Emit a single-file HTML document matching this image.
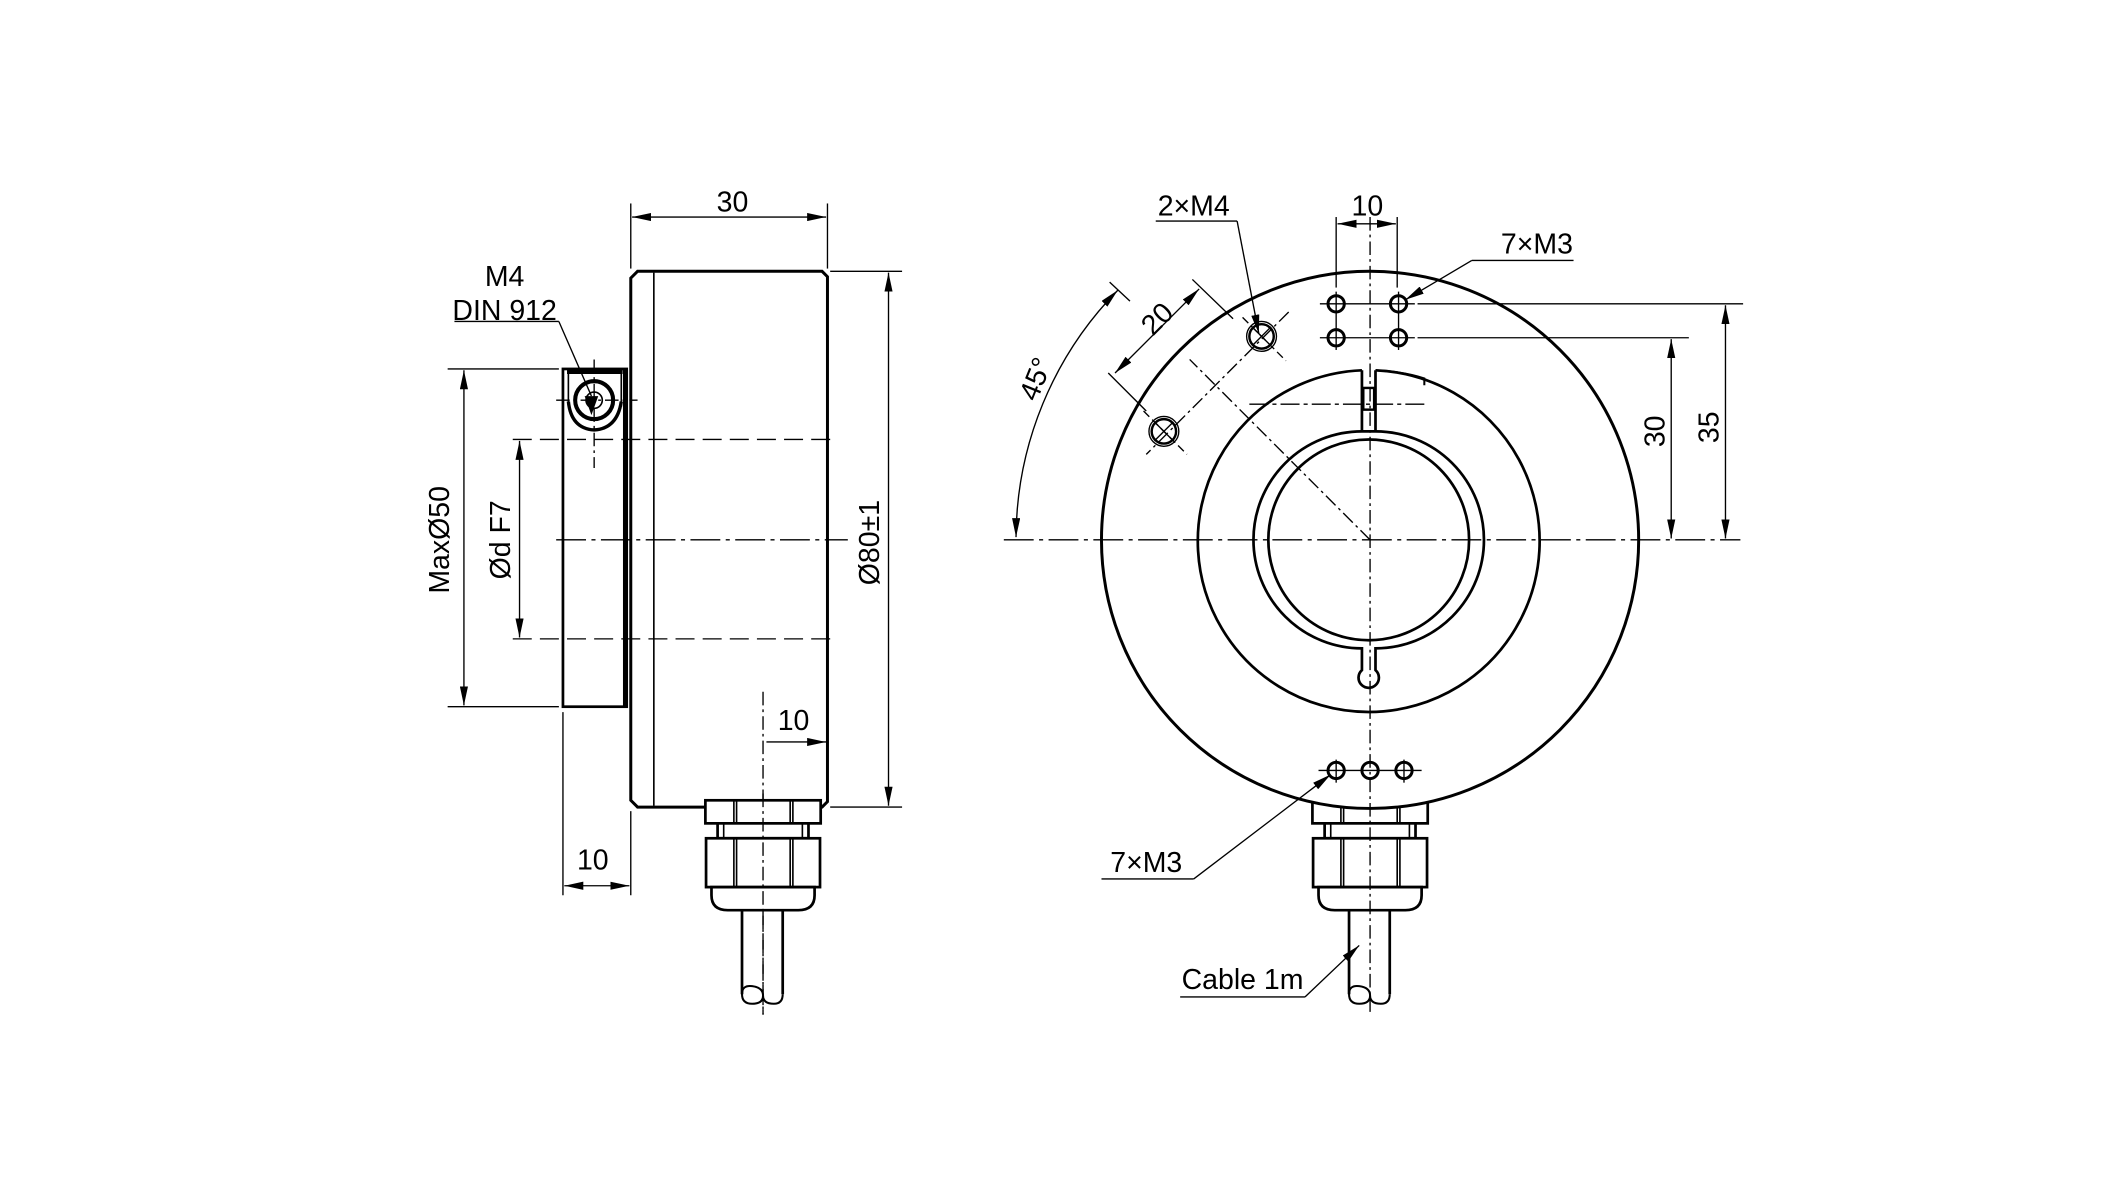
<!DOCTYPE html>
<html><head><meta charset="utf-8"><style>
html,body{margin:0;padding:0;background:#fff;}
svg{display:block;}
text{font-family:"Liberation Sans",sans-serif;font-size:21px;fill:#000;}
</style></head><body>
<svg width="2127" height="1182" viewBox="0 0 1568 871.4" preserveAspectRatio="none" xmlns="http://www.w3.org/2000/svg">
<defs>
<marker id="a" viewBox="0 0 14 6" refX="14" refY="3" markerWidth="14" markerHeight="6" markerUnits="userSpaceOnUse" orient="auto-start-reverse"><path d="M0,0 L14,3 L0,6 Z" fill="#000"/></marker>
<g id="gland" fill="#fff" stroke="#000" stroke-width="2">
<rect x="-42.5" y="590" width="85" height="17"/>
<rect x="-33.5" y="607" width="67" height="11"/>
<line x1="-29" y1="607" x2="-29" y2="618" stroke-width="1.2"/>
<line x1="29" y1="607" x2="29" y2="618" stroke-width="1.2"/>
<rect x="-42" y="618" width="84" height="36"/>
<line x1="-21.5" y1="590" x2="-21.5" y2="607" stroke-width="1.2"/><line x1="20" y1="590" x2="20" y2="607" stroke-width="1.2"/>
<line x1="-19.5" y1="590" x2="-19.5" y2="607" stroke-width="1.2"/><line x1="22" y1="590" x2="22" y2="607" stroke-width="1.2"/>
<line x1="-21.5" y1="618" x2="-21.5" y2="654" stroke-width="1.2"/><line x1="20" y1="618" x2="20" y2="654" stroke-width="1.2"/>
<line x1="-19.5" y1="618" x2="-19.5" y2="654" stroke-width="1.2"/><line x1="22" y1="618" x2="22" y2="654" stroke-width="1.2"/>
<path d="M-38,654 L38,654 L38,660 Q38,671 26,671 L-26,671 Q-38,671 -38,660 Z"/>
<path d="M-15.5,671 L-15.5,733 M14.5,671 L14.5,733" fill="none"/>
<path d="M-15.5,733 Q-15.5,740 -8,740 Q0,740 0,734 Q0,740 8,740 Q14.5,740 14.5,733 M-15.5,733 Q-15.5,726 -8,727 Q0,728 0,734" fill="none" stroke-width="1.5"/>
</g>
</defs>
<g stroke="#000" fill="none">
<!-- LEFT VIEW -->
<path d="M470,200 L606,200 L610,204 L610,591 L606,595 L470,595 L465,590 L465,205 Z" stroke-width="2.2"/>
<line x1="482" y1="201" x2="482" y2="594" stroke-width="1.2"/>
<rect x="415" y="272" width="47" height="249" stroke-width="2"/>
<line x1="461" y1="272" x2="461" y2="521" stroke-width="3.5"/>
<line x1="418" y1="274" x2="459" y2="274" stroke-width="3.5"/>
<line x1="419" y1="274" x2="419" y2="300" stroke-width="1.2"/>
<line x1="458" y1="274" x2="458" y2="300" stroke-width="1.2"/>
<path d="M419,296 Q421,316 438,317 Q455,316 458,296" stroke-width="2.5"/>
<circle cx="438" cy="295" r="14" stroke-width="3"/>
<circle cx="438" cy="295" r="6" stroke-width="1.2"/>
<g stroke-width="1" stroke-dasharray="10,3,2,3"><line x1="438" y1="265" x2="438" y2="345"/><line x1="410" y1="295" x2="470" y2="295"/></g>
<g stroke-width="1" stroke-dasharray="14,6"><line x1="378" y1="324" x2="612" y2="324"/><line x1="378" y1="471" x2="612" y2="471"/></g>
<line x1="410" y1="398" x2="625" y2="398" stroke-width="1" stroke-dasharray="22,4,3,4"/>
<g stroke-width="1">
<line x1="465" y1="150" x2="465" y2="198"/><line x1="610" y1="150" x2="610" y2="198"/>
<line x1="466" y1="160" x2="609" y2="160" marker-start="url(#a)" marker-end="url(#a)"/>
<line x1="612" y1="200" x2="665" y2="200"/><line x1="612" y1="595" x2="665" y2="595"/>
<line x1="655" y1="201" x2="655" y2="594" marker-start="url(#a)" marker-end="url(#a)"/>
<line x1="330" y1="272" x2="412" y2="272"/><line x1="330" y1="521" x2="412" y2="521"/>
<line x1="342" y1="273" x2="342" y2="520" marker-start="url(#a)" marker-end="url(#a)"/>
<line x1="383" y1="325" x2="383" y2="470" marker-start="url(#a)" marker-end="url(#a)"/>
<line x1="335" y1="237" x2="412" y2="237"/><line x1="412" y1="237" x2="436" y2="292"/>
<line x1="415" y1="525" x2="415" y2="660"/><line x1="465" y1="598" x2="465" y2="660"/>
<line x1="416" y1="653" x2="464" y2="653" marker-start="url(#a)" marker-end="url(#a)"/>
<line x1="565" y1="547" x2="609" y2="547" marker-end="url(#a)"/>
</g>
<path d="M431,292 L441,292 L436,306 Z" fill="#000" stroke="none"/>
<line x1="562.5" y1="510" x2="562.5" y2="748" stroke-width="1" stroke-dasharray="10,3,2,3"/>
</g>
<use href="#gland" x="562.5"/>
<line x1="562.5" y1="585" x2="562.5" y2="748" stroke="#000" stroke-width="1" stroke-dasharray="10,3,2,3"/>
<text x="540" y="156" text-anchor="middle">30</text>
<text x="372" y="211" text-anchor="middle">M4</text>
<text x="372" y="236" text-anchor="middle">DIN 912</text>
<text x="437" y="641" text-anchor="middle">10</text>
<text x="585" y="538" text-anchor="middle">10</text>
<text transform="translate(331,398) rotate(-90)" text-anchor="middle">MaxØ50</text>
<text transform="translate(376,398) rotate(-90)" text-anchor="middle">Ød F7</text>
<text transform="translate(648,400) rotate(-90)" text-anchor="middle">Ø80±1</text>

<!-- RIGHT VIEW -->
<use href="#gland" x="1010"/>
<g stroke="#000" fill="none">
<circle cx="1010" cy="398" r="198" stroke-width="2.2" fill="#fff"/>
<path d="M1004,273 A126,126 0 1 0 1014,273" stroke-width="2"/>
<path d="M1014,273 Q1035,274 1050,279 L1050,284" stroke-width="1.5"/>
<path d="M1004,273 L1004,316 L1004,318 M1014,273 L1014,318" stroke-width="2"/>
<rect x="1005" y="286" width="8" height="16" stroke-width="1.8"/>
<path d="M1004,318 A80,80 0 0 0 1004,478 L1004,494 A7.5,7.5 0 1 0 1014,494 L1014,478 A80,80 0 0 0 1014,318 Z" stroke-width="2"/>
<circle cx="1009" cy="398" r="74" stroke-width="2"/>
<g stroke-width="1">
<line x1="740" y1="398" x2="1283" y2="398" stroke-dasharray="22,4,3,4"/>
<line x1="1010" y1="160" x2="1010" y2="748" stroke-dasharray="10,3,2,3"/>
<line x1="921" y1="298" x2="1050" y2="298" stroke-dasharray="14,3,3,3"/>
<line x1="1010" y1="398" x2="877" y2="265" stroke-dasharray="10,3,2,3"/>
<line x1="950" y1="230" x2="845" y2="335" stroke-dasharray="10,3,2,3"/>
<line x1="916" y1="234" x2="948" y2="266" stroke-dasharray="6,3"/>
<line x1="843" y1="303" x2="875" y2="335" stroke-dasharray="6,3"/>
</g>
<g stroke-width="2.2">
<circle cx="985" cy="224" r="6"/><circle cx="1031" cy="224" r="6"/>
<circle cx="985" cy="249" r="6"/><circle cx="1031" cy="249" r="6"/>
<circle cx="985" cy="568" r="6"/><circle cx="1010" cy="568" r="6"/><circle cx="1035" cy="568" r="6"/>
</g>
<g stroke-width="1.8"><circle cx="930" cy="248" r="9"/><circle cx="858" cy="318" r="9"/></g>
<g stroke-width="1"><circle cx="930" cy="248" r="11"/><circle cx="858" cy="318" r="11"/>
<line x1="923" y1="241" x2="937" y2="255"/><line x1="937" y1="241" x2="923" y2="255"/>
<line x1="851" y1="311" x2="865" y2="325"/><line x1="865" y1="311" x2="851" y2="325"/>
<line x1="973" y1="224" x2="1043" y2="224"/><line x1="973" y1="249" x2="1043" y2="249"/>
<line x1="985" y1="215" x2="985" y2="258"/><line x1="1031" y1="215" x2="1031" y2="258"/>
<line x1="972" y1="568" x2="1048" y2="568"/><line x1="985" y1="560" x2="985" y2="577"/><line x1="1035" y1="560" x2="1035" y2="577"/>
<line x1="985" y1="160" x2="985" y2="212"/><line x1="1030" y1="160" x2="1030" y2="212"/>
<line x1="986" y1="165" x2="1029" y2="165" marker-start="url(#a)" marker-end="url(#a)"/>
<line x1="1045" y1="224" x2="1285" y2="224"/><line x1="1045" y1="249" x2="1245" y2="249"/>
<line x1="1232" y1="250" x2="1232" y2="397" marker-start="url(#a)" marker-end="url(#a)"/>
<line x1="1272" y1="225" x2="1272" y2="397" marker-start="url(#a)" marker-end="url(#a)"/>
<path d="M749,396 A262,262 0 0 1 824,214" marker-start="url(#a)" marker-end="url(#a)"/>
<line x1="818" y1="208" x2="833" y2="222"/>
<line x1="879" y1="206" x2="909" y2="235"/>
<line x1="817" y1="275" x2="845" y2="303"/>
<line x1="884" y1="213" x2="822" y2="275" marker-start="url(#a)" marker-end="url(#a)"/>
<line x1="852" y1="163" x2="912" y2="163"/><line x1="912" y1="163" x2="928" y2="246" marker-end="url(#a)"/>
<line x1="1085" y1="192" x2="1160" y2="192"/><line x1="1085" y1="192" x2="1036" y2="221" marker-end="url(#a)"/>
<line x1="812" y1="648" x2="880" y2="648"/><line x1="880" y1="648" x2="981" y2="571" marker-end="url(#a)"/>
<line x1="870" y1="735" x2="962" y2="735"/><line x1="962" y1="735" x2="1002" y2="697" marker-end="url(#a)"/>
</g>
</g>
<text x="880" y="159" text-anchor="middle">2×M4</text>
<text x="1008" y="159" text-anchor="middle">10</text>
<text x="1133" y="187" text-anchor="middle">7×M3</text>
<text x="845" y="643" text-anchor="middle">7×M3</text>
<text x="916" y="729" text-anchor="middle">Cable 1m</text>
<text transform="translate(1227,318) rotate(-90)" text-anchor="middle">30</text>
<text transform="translate(1267,315) rotate(-90)" text-anchor="middle">35</text>
<text transform="translate(770,282) rotate(-68)" text-anchor="middle">45°</text>
<text transform="translate(858,240) rotate(-45)" text-anchor="middle">20</text>
</svg>
</body></html>
